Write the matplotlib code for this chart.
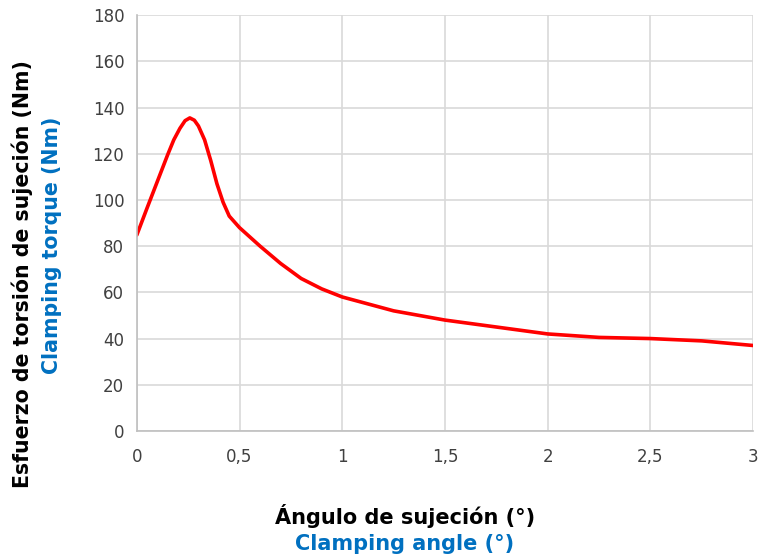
import matplotlib.pyplot as plt

# values
angle = [0.0, 0.05, 0.1, 0.15, 0.18, 0.21, 0.235, 0.258, 0.28, 0.30, 0.33, 0.36,
         0.39, 0.42, 0.45, 0.48, 0.5, 0.6, 0.7, 0.8, 0.9, 1.0, 1.25, 1.5, 1.75,
         2.0, 2.25, 2.5, 2.75, 3.0]
torque = [84.8, 96.5, 108, 119.5, 126, 131, 134.3, 135.5, 134.5, 132, 126, 117,
          107, 99, 93, 90, 88, 80, 72.5, 66, 61.5, 58, 52, 48, 45,
          42, 40.5, 40, 39, 37]

xticks = [0, 0.5, 1, 1.5, 2, 2.5, 3]
xticklabels = ['0', '0,5', '1', '1,5', '2', '2,5', '3']
yticks = list(range(0, 181, 20))

blue = '#0070C0'
plt.rcParams['font.family'] = ['DejaVu Sans']

fig = plt.figure(figsize=(7.6, 5.59), dpi=100)
ax = fig.add_axes([0.180, 0.229, 0.811, 0.744])

ax.plot(angle, torque, color='#ff0000', linewidth=2.6,
        solid_capstyle='round', solid_joinstyle='round')

ax.set_xlim(0, 3)
ax.set_ylim(0, 180)
ax.set_xticks(xticks)
ax.set_xticklabels(xticklabels)
ax.set_yticks(yticks)
ax.grid(True, color='#d9d9d9', linewidth=1.2)
ax.set_axisbelow(True)
for s in ['top', 'right']:
    ax.spines[s].set_visible(False)
for s in ['left', 'bottom']:
    ax.spines[s].set_color('#bfbfbf')
    ax.spines[s].set_linewidth(1.2)
ax.tick_params(length=0, labelsize=12, colors='#404040', pad=9)
ax.tick_params(axis='x', pad=12)

fig.text(0.029, 1 - 274 / 559, 'Esfuerzo de torsión de sujeción (Nm)', rotation=90,
         ha='center', va='center', fontsize=14.8, fontweight='bold', color='black')
fig.text(0.068, 1 - 245 / 559, 'Clamping torque (Nm)', rotation=90,
         ha='center', va='center', fontsize=14.8, fontweight='bold', color=blue)
fig.text(405 / 760, 1 - 516 / 559, 'Ángulo de sujeción (°)', ha='center', va='center',
         fontsize=15, fontweight='bold', color='black')
fig.text(405 / 760, 1 - 544 / 559, 'Clamping angle (°)', ha='center', va='center',
         fontsize=15, fontweight='bold', color=blue)

fig.savefig('out.png', dpi=100)
